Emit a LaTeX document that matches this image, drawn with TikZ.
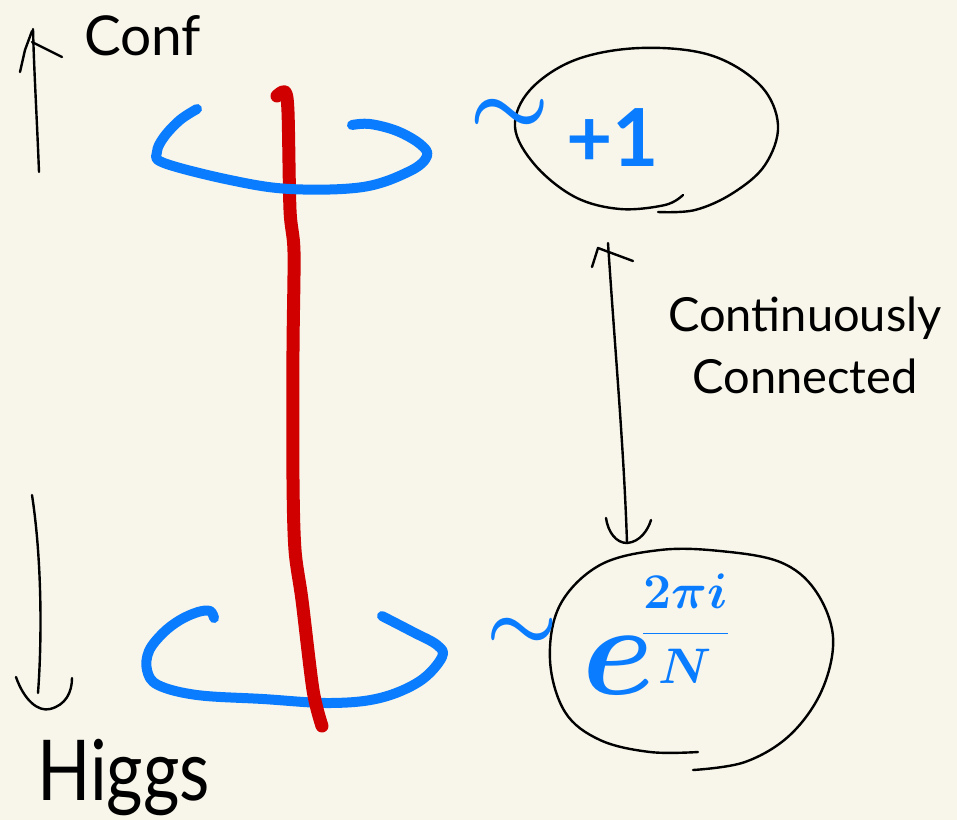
\RequirePackage{fix-cm}
\documentclass[tikz,border=0pt]{standalone}
\usepackage{fontspec}
\setmainfont{Lato}
\usepackage{graphicx}
\definecolor{paper}{RGB}{248,246,235}
\definecolor{blueink}{RGB}{10,124,255}
\definecolor{redink}{RGB}{208,0,0}
\begin{document}
\begin{tikzpicture}[x=1pt,y=-1pt,
  ink/.style={black, line width=2.4pt, line cap=round, line join=round},
  bluestroke/.style={blueink, line width=10pt, line cap=round, line join=round},
  redstroke/.style={redink, line width=13pt, line cap=round, line join=round},
  blacktext/.style={inner sep=0pt, text=black},
  bluetext/.style={inner sep=0pt, text=blueink}]
\fill[paper] (0,0) rectangle (957,820);
\useasboundingbox (0,0) rectangle (957,820);

% upward arrow (confinement)
\coordinate (upfoot) at (39,172);
\coordinate (uptip) at (33,29);
\draw[ink] (upfoot) .. controls (37,120) and (34,70) .. (uptip);
\draw[ink] (20,72) -- (25,50) -- (32,31);
\draw[ink] (32,42) -- (62,57);
\node[blacktext, anchor=base west, font={\fontsize{55}{60}\selectfont}] (conf) at (84,55) {Conf};

% downward arrow (Higgs)
\coordinate (downtop) at (32,495);
\coordinate (downtip) at (38,693);
\draw[ink] (downtop) .. controls (42,560) and (42,640) .. (downtip);
\draw[ink] (16,677) .. controls (24,700) and (38,712) .. (50,709) .. controls (66,705) and (72,692) .. (72,678);
\node[blacktext, anchor=base west, font={\fontsize{70}{70}\selectfont}] (higgs) at (37,800) {\scalebox{1}[1.2]{Higgs}};

% lower blue loop
\draw[bluestroke] plot[smooth, tension=0.6] coordinates {
  (214,618) (210,611) (198,612) (180,620) (163,633) (149,651) (147,670)
  (158,685) (197,695) (263,699) (330,703) (380,698) (420,681) (442,657)
  (437,645) (413,632) (382,616)};

% red line
\draw[redstroke] plot[smooth, tension=0.5] coordinates {
  (277,96) (285,92) (288,112) (290,210) (294,252) (293,350) (293,480)
  (295,550) (302,600) (313,690) (322,726)};

% upper blue loop
\draw[bluestroke] plot[smooth, tension=0.6] coordinates {
  (197,109) (180,120) (164,137) (157,152) (164,163) (230,180) (290,189)
  (363,187) (410,171) (427,156) (420,144) (397,131) (370,124) (352,125)};

% upper ellipse
\draw[ink] plot[smooth, tension=0.6] coordinates {
  (683,195) (665,205) (620,209) (575,197) (535,165) (515,127) (530,90)
  (575,60) (640,48) (710,55) (760,85) (778,125) (765,165) (733,193)
  (695,210) (658,212)};
\node[bluetext, font={\fontsize{90}{90}\selectfont\boldmath}] (tildeA) at (510,117) {$\sim$};
\node[bluetext, anchor=base west, font={\fontsize{80}{80}\selectfont\bfseries}] (plusone) at (566,166) {+1};

% lower ellipse
\draw[ink] plot[smooth, tension=0.6] coordinates {
  (698,752) (650,752) (600,740) (565,712) (550,660) (560,605) (600,565)
  (660,550) (720,551) (780,562) (815,590) (833,637) (822,690) (790,735)
  (745,762) (693,770)};
\node[bluetext, font={\fontsize{80}{80}\selectfont\boldmath}] (tildeB) at (522,634) {$\sim$};
\node[bluetext, anchor=base west, font=\boldmath] (phase) at (582,694)
  {{\fontsize{130}{130}\selectfont$e$}\kern-12pt\raisebox{48pt}{\fontsize{50}{50}\selectfont$\displaystyle\frac{2\pi i}{N}$}};

% double arrow between the two phases
\coordinate (upper) at (608,243);
\coordinate (lower) at (627,543);
\draw[ink] (upper) .. controls (615,350) and (624,450) .. (lower);
\draw[ink] (592,267) -- (598,248) -- (633,261);
\draw[ink] (606,518) .. controls (608,532) and (616,543) .. (627,543) .. controls (640,542) and (648,530) .. (651,520);

\node[blacktext, align=center, font={\fontsize{47}{62}\selectfont}] (label) at (805,345) {Continuously\\Connected};
\end{tikzpicture}
\end{document}
